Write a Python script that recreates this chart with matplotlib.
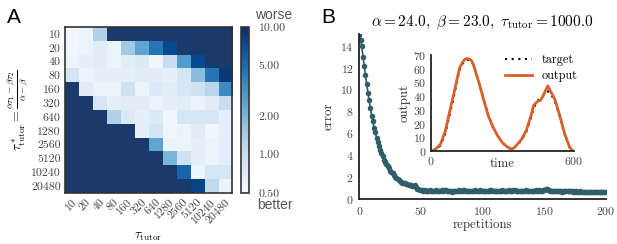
import numpy as np
import matplotlib
matplotlib.use("Agg")
import matplotlib.pyplot as plt
from matplotlib.colors import LogNorm

plt.rcParams["font.family"] = "serif"
plt.rcParams["font.serif"] = ["cmr10", "DejaVu Serif"]
plt.rcParams["mathtext.fontset"] = "cm"
plt.rcParams["axes.formatter.use_mathtext"] = True

# --- panel A data ---
tau_labels = ["10", "20", "40", "80", "160", "320", "640", "1280",
              "2560", "5120", "10240", "20480"]
N = 12.0  # cells that are off the scale (>= 10)
err_grid = [
    [0.55, 0.6, 1.3, N, N, N, N, N, N, N, N, N],
    [0.55, 0.6, 0.7, 0.6, 1.5, 2.5, 4.5, 7.5, N, N, N, N],
    [0.6, 0.65, 0.7, 0.6, 0.7, 0.75, 0.55, 1.0, 2.8, 7.5, 10.5, N],
    [0.85, 0.6, 0.65, 0.65, 0.65, 0.7, 0.7, 0.65, 0.8, 1.8, 4.5, 9.0],
    [N, 0.7, 0.6, 0.6, 0.9, 0.6, 0.75, 0.7, 0.8, 0.9, 1.2, 3.5],
    [N, N, 0.8, 0.65, 0.7, 0.7, 0.6, 0.65, 0.7, 0.6, 0.7, 1.0],
    [N, N, N, 1.3, 0.75, 0.65, 0.75, 0.55, 0.8, 0.8, 0.8, 0.65],
    [N, N, N, N, N, 0.65, 0.85, 0.55, 0.6, 0.7, 0.55, 0.65],
    [N, N, N, N, N, N, 2.5, 0.6, 0.6, 0.65, 0.6, 0.65],
    [N, N, N, N, N, N, N, 2.0, 0.9, 0.65, 0.6, 0.65],
    [N, N, N, N, N, N, N, N, 5.5, 0.6, 0.8, 0.8],
    [N, N, N, N, N, N, N, N, N, 8.0, 1.1, 0.6],
]
cbar_ticks = [0.5, 1.0, 2.0, 5.0, 10.0]

# --- panel B data ---
err_decay = [15.0, 14.5, 14.0, 13.0, 12.1, 11.3, 10.5, 9.7, 9.0, 8.3,
             7.6, 7.1, 6.5, 6.1, 5.6, 5.2, 4.8, 4.5, 4.2, 3.9,
             3.6, 3.4, 3.2, 3.0, 2.8, 2.6, 2.5, 2.35, 2.2, 2.05,
             1.9, 1.8, 1.75, 1.6, 1.55, 1.5, 1.45, 1.45, 1.4, 1.35,
             1.3, 1.25, 1.3, 1.2, 1.15, 1.25, 1.1, 0.95, 0.9, 0.85, 0.8]
err_plateau = [0.78, 0.72, 0.8, 0.75, 0.7, 0.76, 0.82, 0.74, 0.7, 0.77,
               0.73, 0.79, 0.72, 0.75, 0.7, 0.74, 0.8, 0.76, 0.85, 0.78,
               0.72, 0.7, 0.75, 0.73, 0.68, 0.74, 0.77, 0.71, 0.7, 0.76,
               0.79, 0.74, 0.72, 0.78, 0.8, 0.73, 0.7, 0.75, 0.77, 0.72,
               0.74, 0.7, 0.76, 0.79, 0.73, 0.71, 0.75, 0.8, 0.74, 0.7,
               0.72, 0.77, 0.75, 0.7, 0.73, 0.78, 0.82, 0.76, 0.72, 0.7,
               0.74, 0.77, 0.73, 0.71, 0.76, 0.8, 0.75, 0.72, 0.7, 0.74,
               0.78, 0.73, 0.7, 0.75, 0.79, 0.84, 0.77, 0.72, 0.7, 0.73,
               0.76, 0.72, 0.7, 0.75, 0.78, 0.74, 0.7, 0.72, 0.77, 0.73,
               0.7, 0.74, 0.78, 0.72, 0.75, 0.79, 0.74, 0.76, 0.82, 0.78,
               0.88, 0.95, 0.84, 0.78, 0.74, 0.72, 0.76, 0.73, 0.7, 0.74,
               0.77, 0.72, 0.7, 0.68, 0.73, 0.75, 0.7, 0.72, 0.69, 0.71,
               0.74, 0.7, 0.68, 0.72, 0.66, 0.7, 0.67, 0.65, 0.69, 0.66,
               0.64, 0.68, 0.65, 0.62, 0.66, 0.63, 0.67, 0.65, 0.62, 0.6,
               0.64, 0.66, 0.62, 0.6, 0.63, 0.61, 0.65, 0.62, 0.68, 0.66]
error = err_decay + err_plateau
reps = np.arange(len(error))

time = [10, 20, 40, 60, 80, 100, 110, 120, 130, 140, 150, 160, 170, 180, 190,
        200, 220, 240, 260, 280, 300, 320, 330, 340, 350, 360, 380, 400, 420,
        430, 440, 450, 460, 470, 480, 490, 500, 510, 520, 540, 560, 580, 590, 597]
output = [0.5, 1.5, 5.0, 14.5, 30.0, 45.0, 53.0, 60.5, 64.0, 66.5, 67.5, 67.0,
          66.0, 62.0, 56.0, 50.5, 38.0, 26.0, 17.5, 11.0, 6.0, 3.0, 2.0, 1.5,
          2.5, 4.5, 8.5, 15.0, 26.0, 33.0, 35.0, 36.5, 37.0, 40.0, 44.0, 47.5,
          44.0, 41.0, 37.5, 26.0, 13.0, 3.5, 1.0, 0.0]
target = [0.3, 1.0, 4.0, 12.5, 27.5, 43.0, 51.5, 59.0, 63.0, 65.5, 66.5, 66.5,
          65.5, 62.0, 56.5, 51.0, 38.5, 26.5, 17.5, 11.0, 6.0, 3.0, 2.0, 1.5,
          2.5, 4.0, 8.0, 14.0, 24.5, 31.0, 34.5, 37.0, 39.0, 40.5, 42.5, 43.5,
          42.0, 39.5, 36.0, 25.5, 12.5, 3.0, 0.8, 0.0]

fig = plt.figure(figsize=(6.17, 2.44), dpi=100)
tick_col = "#444444"
spine_col = "#333333"
tick_fs = 8.5

# --- panel A: heatmap ---
cmap = plt.get_cmap("Blues").copy()
cmap.set_over("#1b3a6c")
axA = fig.add_axes([0.1053, 0.209, 0.2707, 0.680])
im = axA.imshow(np.array(err_grid), cmap=cmap,
                norm=LogNorm(vmin=0.5, vmax=10), aspect="auto",
                interpolation="nearest")
axA.set_xticks(range(len(tau_labels)))
axA.set_xticklabels(tau_labels, rotation=45, ha="right", rotation_mode="anchor")
axA.set_yticks(range(len(tau_labels)))
axA.set_yticklabels(tau_labels)
axA.tick_params(length=0, labelsize=tick_fs, colors=tick_col, pad=3)
for s in axA.spines.values():
    s.set_color(spine_col)
    s.set_linewidth(1.2)
axA.set_xlabel(r"$\tau_{\rm tutor}$", fontsize=9.5, labelpad=4)
axA.set_ylabel(r"$\tau^*_{\rm tutor} = \frac{\alpha\tau_1 - \beta\tau_2}{\alpha - \beta}$",
               fontsize=9.5, labelpad=1)

cax = fig.add_axes([0.3906, 0.209, 0.013, 0.680])
cb = fig.colorbar(im, cax=cax, ticks=cbar_ticks)
cb.ax.set_yticklabels(["%.2f" % t for t in cbar_ticks])
cb.ax.minorticks_off()
cb.ax.tick_params(length=0, labelsize=tick_fs, colors=tick_col, pad=7)
cb.outline.set_edgecolor(spine_col)
cb.outline.set_linewidth(1.2)

fig.text(0.444, 0.94, "worse", family="Liberation Sans", fontsize=10,
         color="#555555", ha="center", va="center")
fig.text(0.446, 0.16, "better", family="Liberation Sans", fontsize=10,
         color="#555555", ha="center", va="center")
fig.text(0.012, 0.93, "A", family="Liberation Sans", fontsize=15, va="center")
fig.text(0.52, 0.93, "B", family="Liberation Sans", fontsize=15, va="center")

# --- panel B: learning curve ---
axB = fig.add_axes([0.5823, 0.1844, 0.3998, 0.678])
teal = "#2f5d68"
axB.plot(reps, error, color=teal, lw=1.2, marker="o", markersize=4,
         markeredgewidth=0)
axB.set_xlim(0, 200)
axB.set_ylim(0, 15.1)
axB.set_xticks([0, 50, 100, 150, 200])
axB.set_yticks(range(0, 15, 2))
for side in ["top", "right"]:
    axB.spines[side].set_visible(False)
for side in ["left", "bottom"]:
    axB.spines[side].set_color("#222222")
    axB.spines[side].set_linewidth(1.3)
axB.tick_params(length=0, labelsize=tick_fs, colors=tick_col, pad=4)
axB.set_xlabel("repetitions", fontsize=9.3, color="#333333", labelpad=2)
axB.set_ylabel("error", fontsize=9.3, color="#333333", labelpad=4)
axB.set_title(r"$\alpha = 24.0,\ \beta = 23.0,\ \tau_{\rm tutor} = 1000.0$",
              fontsize=11, pad=5)

# inset with target vs output
axI = fig.add_axes([0.6985, 0.3811, 0.2318, 0.3934])
axI.plot(time, target, color="black", lw=1.5, ls=(0, (1, 2.2)), label="target")
axI.plot(time, output, color="#d95f2b", lw=2.0, label="output")
axI.set_xlim(0, 600)
axI.set_ylim(0, 70)
axI.set_xticks([0, 600])
axI.set_yticks(range(0, 71, 10))
for side in ["top", "right"]:
    axI.spines[side].set_visible(False)
for side in ["left", "bottom"]:
    axI.spines[side].set_color("#222222")
    axI.spines[side].set_linewidth(1.3)
axI.tick_params(length=0, labelsize=tick_fs, colors=tick_col, pad=3)
axI.set_xlabel("time", fontsize=9.3, color="#333333", labelpad=-7)
axI.set_ylabel("output", fontsize=9.3, color="#333333", labelpad=2)
axI.legend(loc="upper right", frameon=False, fontsize=8.8, handlelength=2.2,
           handletextpad=0.8, borderaxespad=0.0, labelspacing=0.3,
           bbox_to_anchor=(1.06, 1.06))

fig.savefig("out.png", dpi=100)
